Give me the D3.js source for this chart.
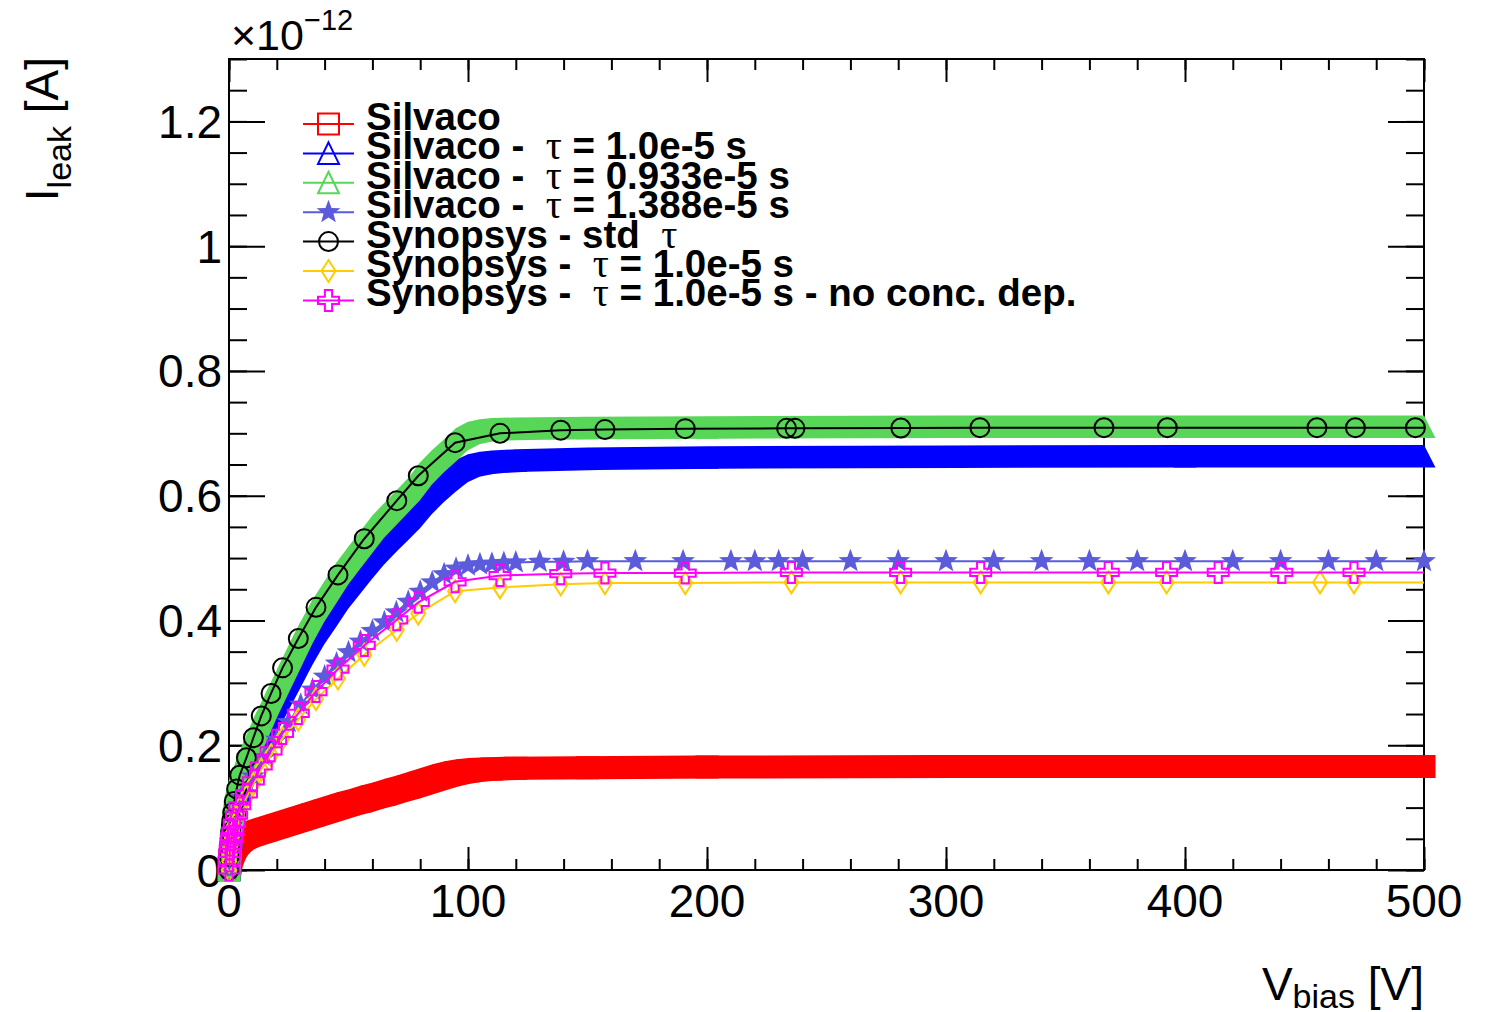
<!DOCTYPE html>
<html>
<head>
<meta charset="utf-8">
<script src="https://cdn.jsdelivr.net/npm/d3@7"></script>
<style>
  body { margin: 0; background: #fff; }
  svg { display: block; font-family: "Liberation Sans", Arial, Helvetica, sans-serif; }
  text { white-space: pre; }
</style>
</head>
<body>
<svg id="chart" width="1486" height="1012"></svg>
<script>
// Leakage current vs bias voltage, Silvaco / Synopsys comparison (values in 1e-12 A)

const xTickValues = [0, 100, 200, 300, 400, 500];
const xTickLabels = ['0', '100', '200', '300', '400', '500'];
const yTickValues = [0, 0.2, 0.4, 0.6, 0.8, 1.0, 1.2];
const yTickLabels = ['0', '0.2', '0.4', '0.6', '0.8', '1', '1.2'];

// Silvaco default (red squares, dense)
const silvacoV = [0, 0.5, 1, 2, 3, 5, 7.5, 10, 15, 20, 25, 30, 35, 40, 45, 50, 55, 60, 65, 70, 75, 80, 85, 90, 95, 100, 105, 110, 120, 150, 200, 300, 400, 500];
const silvacoI = [0, 0.015, 0.025, 0.035, 0.042, 0.05, 0.055, 0.058, 0.064, 0.07, 0.076, 0.082, 0.088, 0.094, 0.1, 0.106, 0.111, 0.117, 0.122, 0.128, 0.133, 0.139, 0.145, 0.151, 0.156, 0.159, 0.161, 0.162, 0.163, 0.164, 0.165, 0.166, 0.166, 0.166];

// Silvaco tau = 1.0e-5 s (blue triangles, dense)
const silvacoTau10V = [0, 1, 2, 3, 5, 7.5, 10, 15, 20, 25, 30, 35, 40, 45, 50, 55, 60, 65, 70, 75, 80, 85, 90, 95, 100, 105, 110, 120, 150, 200, 300, 400, 500];
const silvacoTau10I = [0, 0.068, 0.099, 0.122, 0.148, 0.172, 0.195, 0.236, 0.273, 0.309, 0.346, 0.379, 0.407, 0.436, 0.46, 0.484, 0.507, 0.527, 0.546, 0.565, 0.588, 0.607, 0.624, 0.639, 0.648, 0.652, 0.654, 0.656, 0.659, 0.661, 0.662, 0.663, 0.663];

// Silvaco tau = 0.933e-5 s (green triangles, dense)
const silvacoTau0933V = [0, 1, 2, 3, 5, 7.5, 10, 15, 20, 25, 30, 35, 40, 45, 50, 55, 60, 65, 70, 75, 80, 85, 90, 95, 100, 105, 110, 120, 150, 200, 300, 400, 500];
const silvacoTau0933I = [0, 0.075, 0.11, 0.135, 0.165, 0.19, 0.215, 0.26, 0.3, 0.34, 0.38, 0.415, 0.445, 0.475, 0.5, 0.525, 0.55, 0.57, 0.59, 0.61, 0.635, 0.655, 0.672, 0.69, 0.7, 0.704, 0.706, 0.707, 0.708, 0.709, 0.71, 0.71, 0.71];

// Silvaco tau = 1.388e-5 s (stars)
const silvacoTau1388V = [0, 5, 10, 15, 20, 25, 30, 35, 40, 45, 50, 55, 60, 65, 70, 75, 80, 85, 90, 95, 100, 105, 110, 115, 120, 130, 140, 150, 170, 190, 210, 220, 230, 240, 260, 280, 300, 320, 340, 360, 380, 400, 420, 440, 460, 480, 500];
const silvacoTau1388I = [0, 0.115, 0.15, 0.181, 0.209, 0.237, 0.265, 0.289, 0.31, 0.331, 0.349, 0.366, 0.383, 0.397, 0.413, 0.43, 0.446, 0.461, 0.474, 0.483, 0.488, 0.49, 0.491, 0.492, 0.493, 0.494, 0.494, 0.495, 0.495, 0.495, 0.495, 0.495, 0.495, 0.495, 0.495, 0.495, 0.495, 0.495, 0.495, 0.495, 0.495, 0.495, 0.495, 0.495, 0.495, 0.495, 0.495];

// Synopsys std tau (black circles)
const synStdV = [0, 0.1, 0.3, 0.5, 0.7, 1.0, 1.2, 1.6, 2.2, 3.2, 4.5, 7.3, 10.2, 13.5, 17.6, 22.4, 29.0, 36.4, 45.6, 56.6, 70.2, 79.2, 94.6, 113.4, 138.8, 157.3, 190.9, 233.3, 236.8, 281.1, 314.2, 366.1, 392.6, 455.2, 471.3, 496.4, 520];
const synStdI = [0, 0.022, 0.04, 0.051, 0.06, 0.072, 0.08, 0.092, 0.11, 0.13, 0.152, 0.18, 0.212, 0.247, 0.283, 0.324, 0.371, 0.421, 0.473, 0.531, 0.592, 0.632, 0.685, 0.7, 0.705, 0.706, 0.7075, 0.708, 0.708, 0.7085, 0.709, 0.709, 0.709, 0.709, 0.709, 0.709, 0.709];

// Synopsys tau = 1.0e-5 s (yellow diamonds)
const synTauV = [0, 0.1, 0.3, 0.5, 0.7, 1.0, 1.2, 1.6, 2.2, 3.2, 4.5, 7.3, 10.2, 13.5, 17.6, 22.4, 29.0, 36.4, 45.6, 56.6, 70.2, 79.2, 94.6, 113.4, 138.8, 157.3, 190.9, 235.3, 281.0, 314.5, 367.9, 392.3, 456.5, 470.7, 520];
const synTauI = [0, 0.014, 0.026, 0.033, 0.039, 0.047, 0.052, 0.06, 0.072, 0.085, 0.099, 0.117, 0.138, 0.161, 0.184, 0.211, 0.241, 0.274, 0.307, 0.345, 0.385, 0.411, 0.447, 0.453, 0.458, 0.46, 0.46, 0.461, 0.461, 0.461, 0.461, 0.461, 0.461, 0.461, 0.461];

// Synopsys tau = 1.0e-5 s, no concentration dependence (magenta crosses)
const synNoConcV = [0, 0.1, 0.3, 0.5, 0.7, 1.0, 1.2, 1.6, 2.2, 3.2, 4.5, 7.3, 10.2, 13.5, 17.6, 22.4, 29.0, 36.4, 45.6, 56.6, 70.2, 79.2, 94.6, 113.4, 138.8, 157.3, 190.9, 235.3, 281.0, 314.5, 367.9, 392.3, 413.9, 440.5, 470.7, 520];
const synNoConcI = [0, 0.015, 0.027, 0.034, 0.04, 0.049, 0.054, 0.062, 0.075, 0.088, 0.103, 0.122, 0.143, 0.167, 0.191, 0.219, 0.251, 0.286, 0.322, 0.36, 0.401, 0.429, 0.462, 0.472, 0.475, 0.476, 0.476, 0.477, 0.477, 0.477, 0.477, 0.477, 0.477, 0.477, 0.477, 0.477];

const legendLabels = [
    ['Silvaco', '', ''],
    ['Silvaco -  ', 'τ', ' = 1.0e-5 s'],
    ['Silvaco -  ', 'τ', ' = 0.933e-5 s'],
    ['Silvaco -  ', 'τ', ' = 1.388e-5 s'],
    ['Synopsys - std  ', 'τ', ''],
    ['Synopsys -  ', 'τ', ' = 1.0e-5 s'],
    ['Synopsys -  ', 'τ', ' = 1.0e-5 s - no conc. dep.']
];

const RED = '#ff0000', BLUE = '#0000ff', GREEN = '#58d658', STAR = '#5b5bdc',
      BLACK = '#000000', GOLD = '#ffcc00', MAGENTA = '#ff00ff';

const svg = d3.select('#chart');
const x = d3.scaleLinear().domain([0, 500]).range([229, 1424]);
const y = d3.scaleLinear().domain([0, 1.3]).range([870, 59]);

// marker shapes
const SQ = [[-11.5, -11.5], [11.5, -11.5], [11.5, 11.5], [-11.5, 11.5]];
const TRI = [[0, -11.5], [11.5, 11], [-11.5, 11]];
function polyPath(pts) { return 'M' + pts.map(p => p.join(',')).join('L') + 'Z'; }
const squarePath = polyPath([[-10.5, -10.5], [10.5, -10.5], [10.5, 10.5], [-10.5, 10.5]]);
const trianglePath = polyPath([[0, -11], [10.5, 10.5], [-10.5, 10.5]]);
const diamondPath = polyPath([[0, -11], [7, 0], [0, 11], [-7, 0]]);
const crossPath = (function () {
    const a = 3.6, h = 10.5;
    return polyPath([[-a, -h], [a, -h], [a, -a], [h, -a], [h, a], [a, a], [a, h], [-a, h], [-a, a], [-h, a], [-h, -a], [-a, -a]]);
})();
const starPath = polyPath(d3.range(10).map(k => {
    const ang = -Math.PI / 2 + k * Math.PI / 5;
    const r = k % 2 === 0 ? 12.5 : 5.2;
    return [r * Math.cos(ang), r * Math.sin(ang)];
}));

// frame + ticks
svg.append('defs').append('clipPath').attr('id', 'frameClip')
    .append('rect').attr('x', 229).attr('y', 59).attr('width', 1195).attr('height', 811);

function tickGroup(transform, axis, values, size) {
    const g = svg.append('g').attr('transform', transform)
        .call(axis.tickValues(values).tickSize(size).tickFormat(''));
    g.select('.domain').remove();
    g.selectAll('.tick text').remove();
    g.selectAll('.tick line').attr('stroke', '#000').attr('stroke-width', 2);
}
const xMinor = d3.range(0, 501, 20);
const yMinor = d3.range(0, 1.3001, 0.05);
tickGroup(`translate(0,${y(0)})`, d3.axisTop(x), xMinor, 11);
tickGroup(`translate(0,${y(0)})`, d3.axisTop(x), xTickValues, 23);
tickGroup(`translate(0,${y(1.3)})`, d3.axisBottom(x), xMinor, 11);
tickGroup(`translate(0,${y(1.3)})`, d3.axisBottom(x), xTickValues, 23);
tickGroup(`translate(${x(0)},0)`, d3.axisRight(y), yMinor, 18);
tickGroup(`translate(${x(0)},0)`, d3.axisRight(y), yTickValues, 36);
tickGroup(`translate(${x(500)},0)`, d3.axisLeft(y), yMinor, 18);
tickGroup(`translate(${x(500)},0)`, d3.axisLeft(y), yTickValues, 36);

svg.append('rect')
    .attr('x', x(0)).attr('y', y(1.3))
    .attr('width', x(500) - x(0)).attr('height', y(0) - y(1.3))
    .attr('fill', 'none').attr('stroke', '#000').attr('stroke-width', 2);

// tick labels
svg.append('g').selectAll('text').data(xTickValues).join('text')
    .attr('x', d => x(d)).attr('y', 917)
    .attr('text-anchor', 'middle').attr('font-size', 46)
    .text((d, i) => xTickLabels[i]);
svg.append('g').selectAll('text').data(yTickValues).join('text')
    .attr('x', 222).attr('y', d => y(d) + 16.5)
    .attr('text-anchor', 'end').attr('font-size', 46)
    .text((d, i) => yTickLabels[i]);

// exponent
const expo = svg.append('text').attr('x', 231).attr('y', 50).attr('font-size', 43);
expo.append('tspan').text('×10');
expo.append('tspan').attr('font-size', 29).attr('dy', -20).text('−12');

// axis titles
const yTitle = svg.append('text')
    .attr('transform', 'translate(58,57) rotate(-90)')
    .attr('text-anchor', 'end').attr('font-size', 46);
yTitle.append('tspan').text('I');
yTitle.append('tspan').attr('font-size', 34).attr('dy', 13).text('leak');
yTitle.append('tspan').attr('dy', -13).text(' [A]');

const xTitle = svg.append('text')
    .attr('x', 1424).attr('y', 1000)
    .attr('text-anchor', 'end').attr('font-size', 46);
xTitle.append('tspan').text('V');
xTitle.append('tspan').attr('font-size', 34).attr('dy', 8).text('bias');
xTitle.append('tspan').attr('dy', -8).text(' [V]');

// dense marker bands: union of the hulls of consecutive markers
function drawBand(V, I, shape, color) {
    const g = svg.append('g').attr('fill', color);
    for (let i = 0; i < V.length - 1; i++) {
        const p0 = [x(V[i]), y(I[i])], p1 = [x(V[i + 1]), y(I[i + 1])];
        const pts = shape.map(s => [p0[0] + s[0], p0[1] + s[1]])
            .concat(shape.map(s => [p1[0] + s[0], p1[1] + s[1]]));
        g.append('path').attr('d', polyPath(d3.polygonHull(pts)));
    }
}

function drawSeries(V, I, color, markerPath, filled) {
    const pts = V.map((v, i) => [v, I[i]]);
    svg.append('path')
        .datum(pts)
        .attr('clip-path', 'url(#frameClip)')
        .attr('fill', 'none').attr('stroke', color).attr('stroke-width', 2)
        .attr('d', d3.line().x(d => x(d[0])).y(d => y(d[1])));
    svg.append('g').selectAll('path')
        .data(pts.filter(d => d[0] <= 500))
        .join('path')
        .attr('transform', d => `translate(${x(d[0])},${y(d[1])})`)
        .attr('d', markerPath)
        .attr('fill', filled ? color : 'none')
        .attr('stroke', filled ? 'none' : color)
        .attr('stroke-width', 2);
}

drawBand(silvacoV, silvacoI, SQ, RED);
drawBand(silvacoTau10V, silvacoTau10I, TRI, BLUE);
drawBand(silvacoTau0933V, silvacoTau0933I, TRI, GREEN);
drawSeries(silvacoTau1388V, silvacoTau1388I, STAR, starPath, true);

// circles for the Synopsys std curve
(function () {
    const pts = synStdV.map((v, i) => [v, synStdI[i]]);
    svg.append('path').datum(pts)
        .attr('clip-path', 'url(#frameClip)')
        .attr('fill', 'none').attr('stroke', BLACK).attr('stroke-width', 2)
        .attr('d', d3.line().x(d => x(d[0])).y(d => y(d[1])));
    svg.append('g').selectAll('circle')
        .data(pts.filter(d => d[0] <= 500))
        .join('circle')
        .attr('cx', d => x(d[0])).attr('cy', d => y(d[1])).attr('r', 9.5)
        .attr('fill', 'none').attr('stroke', BLACK).attr('stroke-width', 2);
})();

drawSeries(synTauV, synTauI, GOLD, diamondPath, false);
drawSeries(synNoConcV, synNoConcI, MAGENTA, crossPath, false);

// legend
const legendColors = [RED, BLUE, GREEN, STAR, BLACK, GOLD, MAGENTA];
const legendMarkers = [squarePath, trianglePath, trianglePath, starPath, null, diamondPath, crossPath];
const legend = svg.append('g');
legendLabels.forEach((lab, i) => {
    const ry = 124 + i * 29.4;
    const c = legendColors[i];
    legend.append('line')
        .attr('x1', 303).attr('x2', 354).attr('y1', ry).attr('y2', ry)
        .attr('stroke', c).attr('stroke-width', 2);
    if (legendMarkers[i]) {
        legend.append('path')
            .attr('transform', `translate(328.5,${ry})`)
            .attr('d', legendMarkers[i])
            .attr('fill', i === 3 ? c : 'none')
            .attr('stroke', i === 3 ? 'none' : c)
            .attr('stroke-width', 2);
    } else {
        legend.append('circle')
            .attr('cx', 328.5).attr('cy', ry).attr('r', 9.5)
            .attr('fill', 'none').attr('stroke', c).attr('stroke-width', 2);
    }
    const t = legend.append('text')
        .attr('x', 366).attr('y', ry + 6)
        .attr('font-size', 38.5).attr('font-weight', 'bold');
    t.append('tspan').text(lab[0]);
    if (lab[1]) {
        t.append('tspan')
            .attr('font-family', '"Liberation Serif", "Times New Roman", serif')
            .attr('font-weight', 'normal').attr('font-size', 40)
            .text(lab[1]);
    }
    if (lab[2]) t.append('tspan').text(lab[2]);
});
</script>
</body>
</html>
